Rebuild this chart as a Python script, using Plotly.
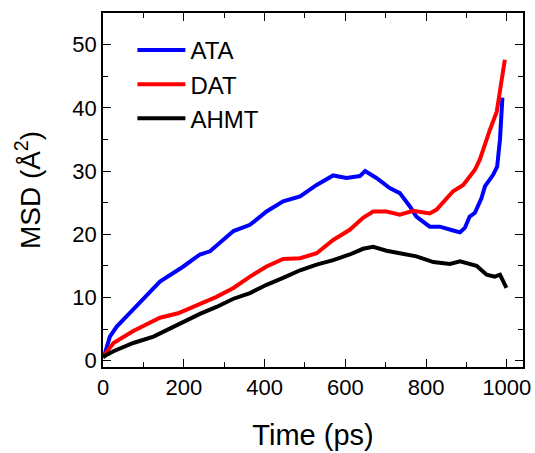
import plotly.graph_objects as go

# ---- data ----
time_ata = [0, 5, 17, 34, 75, 116, 141, 199, 240, 265, 323, 364, 405, 446, 488, 529, 570,
            603, 636, 649, 677, 710, 735, 760, 776, 809, 834, 867, 884, 896, 908, 921, 937,
            946, 958, 966, 976, 983, 989]
msd_ata = [0.8, 1.2, 3.8, 5.4, 8.1, 10.7, 12.5, 14.9, 16.8, 17.3, 20.5, 21.5, 23.6, 25.2,
           26.0, 27.8, 29.3, 28.9, 29.2, 30.0, 28.9, 27.3, 26.5, 24.4, 22.8, 21.2, 21.2,
           20.6, 20.3, 21.0, 22.8, 23.4, 25.7, 27.6, 28.6, 29.4, 30.7, 35.0, 41.6]

time_dat = [0, 5, 26, 75, 116, 141, 186, 240, 281, 323, 364, 405, 446, 488, 529, 570, 611,
            644, 669, 702, 735, 768, 809, 826, 855, 867, 892, 908, 921, 933, 941, 958, 975, 995]
msd_dat = [0.6, 1.0, 2.8, 4.7, 6.0, 6.8, 7.5, 8.9, 10.1, 11.5, 13.3, 14.9, 16.1, 16.2, 17.0,
           19.1, 20.7, 22.6, 23.6, 23.6, 23.1, 23.7, 23.3, 23.9, 26.0, 26.8, 27.8, 29.2, 30.2,
           31.8, 33.4, 36.5, 39.4, 47.6]

time_ahmt = [0, 5, 26, 75, 125, 186, 240, 281, 323, 364, 405, 446, 488, 529, 570, 611, 644,
             669, 702, 735, 776, 818, 834, 859, 884, 908, 925, 950, 970, 983, 999]
msd_ahmt = [0.5, 0.8, 1.5, 2.8, 3.8, 5.7, 7.4, 8.5, 9.8, 10.7, 12.0, 13.1, 14.3, 15.2, 15.9,
            16.8, 17.7, 18.0, 17.4, 17.0, 16.5, 15.6, 15.5, 15.3, 15.7, 15.2, 15.0, 13.6,
            13.3, 13.6, 11.5]

series = [("ATA", time_ata, msd_ata, "#0000ff"),
          ("DAT", time_dat, msd_dat, "#ff0000"),
          ("AHMT", time_ahmt, msd_ahmt, "#000000")]

x_ticks = [0, 200, 400, 600, 800, 1000]
y_ticks = [0, 10, 20, 30, 40, 50]

FONT = "Liberation Sans, Arial, sans-serif"

fig = go.Figure()
for name, t, m, c in series:
    fig.add_trace(go.Scatter(x=t, y=m, mode="lines", name=name,
                             line=dict(color=c, width=4)))

axis_common = dict(
    showgrid=False, zeroline=False, showline=True, linecolor="black", linewidth=1.5,
    mirror="allticks", ticks="inside", ticklen=8, tickwidth=1.4, tickcolor="black",
    tickfont=dict(family=FONT, size=22, color="black"), automargin=False,
)
fig.update_xaxes(range=[0, 1040], tickvals=x_ticks,
                 minor=dict(dtick=100, ticks="inside", ticklen=5, tickwidth=1.4, tickcolor="black"),
                 title=dict(text="Time (ps)", font=dict(family=FONT, size=29, color="black"),
                            standoff=26),
                 **axis_common)
fig.update_yaxes(range=[-1, 55], tickvals=y_ticks,
                 minor=dict(dtick=5, ticks="inside", ticklen=5, tickwidth=1.4, tickcolor="black"),
                 title=dict(text="MSD (Å<sup>2</sup>)", font=dict(family=FONT, size=28, color="black"),
                            standoff=24),
                 **axis_common)

fig.update_layout(
    width=535, height=453,
    margin=dict(l=103, r=12, t=13, b=86),
    plot_bgcolor="white", paper_bgcolor="white",
    legend=dict(x=0.07, y=0.958, xanchor="left", yanchor="top",
                bgcolor="rgba(0,0,0,0)", font=dict(family=FONT, size=24, color="black"),
                itemwidth=48),
)

# remove the default page margin so the figure fills the window exactly
fig.write_html("out.html",
               config={"displayModeBar": False},
               post_script="document.body.style.margin='0';document.body.style.overflow='hidden';")
